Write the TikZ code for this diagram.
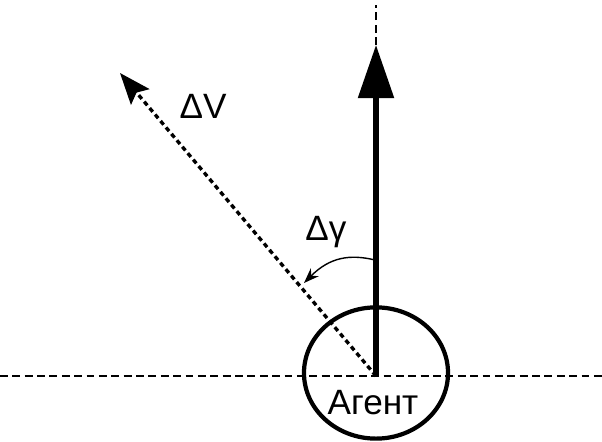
\documentclass[tikz,border=0pt]{standalone}
\usepackage{fontspec}
\setmainfont{Liberation Sans}
\usepackage{tikz}
\usetikzlibrary{shapes.geometric, arrows.meta, positioning, calc}

\begin{document}
\begin{tikzpicture}[
    x=0.025cm, y=0.025cm,
    lbl/.style={inner sep=0pt, font=\fontsize{25}{30}\selectfont},
    axis/.style={line width=2pt, dash pattern=on 5.6pt off 3.2pt},
    body/.style={ellipse, draw, line width=3pt, minimum width=3.6cm, minimum height=3.28cm, inner sep=0pt},
    heading/.style={-{Triangle[length=1.33cm, width=0.88cm]}, line width=3.6pt},
    dv/.style={-{Stealth[length=0.78cm, width=0.6cm, inset=0.14cm]}, line width=2.4pt, dash pattern=on 3.4pt off 2.6pt},
    turn/.style={-{Stealth[length=0.38cm, width=0.28cm]}, line width=1pt},
]
\useasboundingbox (0,0) rectangle (602,441);

\coordinate (o) at (376,65);
\coordinate (left) at (0,65);
\coordinate (right) at (602,65);
\coordinate (tip) at (376,396);
\coordinate (top) at (376,436);
\coordinate (dvtip) at (120,368);
\coordinate (from) at (375,181);
\coordinate (to) at (304,158);

\node[body] (agent) at (376,68) {};
\node[lbl] (name) at (373,38) {Агент};
\node[lbl] (dvlabel) at (203,335) {ΔV};
\node[lbl] (dglabel) at (326,209) {Δγ};

\draw[axis] (left) -- (right);
\draw[axis] (tip) -- (top);
\draw[heading] (o) -- (tip);
\draw[dv] (o) -- (dvtip);
\draw[turn] (from) .. controls (350,187) and (330,184) .. (to);

\end{tikzpicture}
\end{document}
